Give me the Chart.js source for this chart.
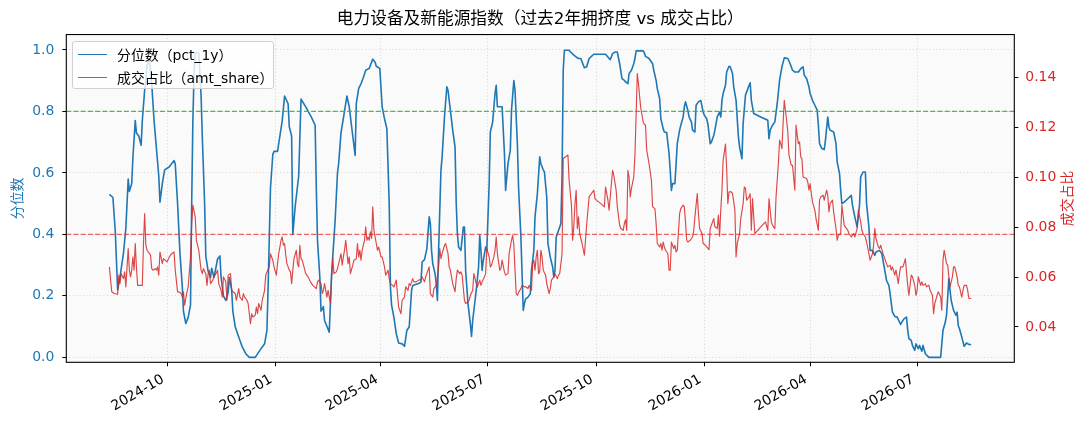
<!DOCTYPE html>
<html>
<head>
<meta charset="utf-8">
<title>电力设备及新能源指数</title>
<script src="https://cdn.jsdelivr.net/npm/chart.js@4.4.1/dist/chart.umd.min.js"></script>
<style>
  html, body { margin: 0; padding: 0; background: #fff; }
  #wrap { position: relative; width: 1089px; height: 429px; }
  #legend {
    position: absolute; left: 72px; top: 41px; width: 202px; height: 48px;
    box-sizing: border-box; border: 1px solid #d0d0d0; border-radius: 3px;
    background: rgba(255, 255, 255, 0.8);
    font-family: 'DejaVu Sans', 'Noto Sans CJK SC', sans-serif; font-size: 13.9px; color: #000;
  }
  #legend .row { position: absolute; left: 0; height: 20px; display: flex; align-items: center; white-space: nowrap; }
  #legend .swatch { display: inline-block; width: 29px; margin: 0 10px 0 5px; }
</style>
</head>
<body>
<div id="wrap">
  <canvas id="chart" width="1089" height="429"></canvas>
  <div id="legend"></div>
</div>
<script>
// 电力设备及新能源指数: 拥挤度分位数 vs 成交占比, 过去2年

const FONT = "'DejaVu Sans', 'Noto Sans CJK SC', sans-serif";
const BLUE = '#1f77b4';
const RED = '#d62728';
const RED_LINE = 'rgba(214, 39, 40, 0.85)';

const chartTitle = '电力设备及新能源指数（过去2年拥挤度 vs 成交占比）';
const pctLabel = '分位数（pct_1y）';
const shareLabel = '成交占比（amt_share）';
const pctAxisTitle = '分位数';
const shareAxisTitle = '成交占比';

const monthTicks = ['2024-10-01', '2025-01-01', '2025-04-01', '2025-07-01',
  '2025-10-01', '2026-01-01', '2026-04-01', '2026-07-01'];
const pctTicks = [0, 0.2, 0.4, 0.6, 0.8, 1.0];
const shareTicks = [0.04, 0.06, 0.08, 0.10, 0.12, 0.14];
const pctRange = [-0.016, 1.05];
const shareRange = [0.0258, 0.1574];
const highLevel = 0.8;
const lowLevel = 0.4;

// pct_1y, one line per month (dates and values line up)
const pctDates = [
  '2024-08-13','2024-08-16','2024-08-18','2024-08-20','2024-08-22','2024-08-25','2024-08-27','2024-08-29','2024-08-30',
  '2024-09-01','2024-09-02','2024-09-04','2024-09-05','2024-09-07','2024-09-09','2024-09-10','2024-09-12','2024-09-13','2024-09-14','2024-09-16','2024-09-18','2024-09-20','2024-09-22','2024-09-24','2024-09-25','2024-09-27','2024-09-29',
  '2024-10-03','2024-10-07','2024-10-08','2024-10-10','2024-10-12','2024-10-14','2024-10-15','2024-10-17','2024-10-19','2024-10-21','2024-10-22','2024-10-23','2024-10-24','2024-10-25','2024-10-28','2024-10-30','2024-10-31',
  '2024-11-02','2024-11-03','2024-11-05','2024-11-07','2024-11-08','2024-11-10','2024-11-11','2024-11-13','2024-11-15','2024-11-16','2024-11-18','2024-11-20','2024-11-22','2024-11-23','2024-11-25','2024-11-26','2024-11-28',
  '2024-12-01','2024-12-04','2024-12-07','2024-12-10','2024-12-15','2024-12-18','2024-12-21','2024-12-23','2024-12-25','2024-12-26','2024-12-27','2024-12-28','2024-12-30','2024-12-31',
  '2025-01-03','2025-01-05','2025-01-07','2025-01-09','2025-01-12','2025-01-13','2025-01-15','2025-01-16','2025-01-18','2025-01-21','2025-01-23','2025-01-27',
  '2025-02-01','2025-02-04','2025-02-05','2025-02-06','2025-02-08','2025-02-09','2025-02-11','2025-02-12','2025-02-16','2025-02-18','2025-02-21','2025-02-23','2025-02-24','2025-02-26',
  '2025-03-02','2025-03-03','2025-03-05','2025-03-08','2025-03-10','2025-03-11','2025-03-13','2025-03-15','2025-03-17','2025-03-19','2025-03-22','2025-03-23','2025-03-25','2025-03-27','2025-03-28','2025-03-31',
  '2025-04-02','2025-04-04','2025-04-06','2025-04-08','2025-04-09','2025-04-10','2025-04-12','2025-04-14','2025-04-16','2025-04-19','2025-04-21','2025-04-23','2025-04-25','2025-04-27','2025-04-28',
  '2025-05-03','2025-05-05','2025-05-06','2025-05-08','2025-05-10','2025-05-12','2025-05-13','2025-05-14','2025-05-15','2025-05-17','2025-05-18','2025-05-19','2025-05-20','2025-05-22','2025-05-23','2025-05-25','2025-05-27','2025-05-28','2025-05-30',
  '2025-06-01','2025-06-03','2025-06-04','2025-06-05','2025-06-06','2025-06-08','2025-06-10','2025-06-11','2025-06-12','2025-06-14','2025-06-16','2025-06-17','2025-06-18','2025-06-20','2025-06-21','2025-06-23','2025-06-24','2025-06-25','2025-06-26','2025-06-27','2025-06-29','2025-06-30',
  '2025-07-02','2025-07-03','2025-07-05','2025-07-07','2025-07-08','2025-07-09','2025-07-12','2025-07-13','2025-07-15','2025-07-16','2025-07-18','2025-07-20','2025-07-21','2025-07-23','2025-07-24','2025-07-26','2025-07-27','2025-07-29','2025-07-31',
  '2025-08-01','2025-08-02','2025-08-04','2025-08-06','2025-08-07','2025-08-09','2025-08-10','2025-08-12','2025-08-14','2025-08-15','2025-08-17','2025-08-18','2025-08-20','2025-08-21','2025-08-23','2025-08-25','2025-08-26','2025-08-27','2025-08-28','2025-08-30',
  '2025-09-01','2025-09-02','2025-09-03','2025-09-04','2025-09-08','2025-09-09','2025-09-12','2025-09-14','2025-09-16','2025-09-18','2025-09-19','2025-09-21','2025-09-23','2025-09-25','2025-09-27','2025-09-29',
  '2025-10-09','2025-10-11','2025-10-13','2025-10-15','2025-10-17','2025-10-19','2025-10-21','2025-10-23','2025-10-25','2025-10-26','2025-10-28','2025-10-29','2025-10-31',
  '2025-11-02','2025-11-03','2025-11-04','2025-11-10','2025-11-11','2025-11-12','2025-11-15','2025-11-18','2025-11-19','2025-11-21','2025-11-22','2025-11-24','2025-11-25','2025-11-27','2025-11-28','2025-11-30',
  '2025-12-02','2025-12-03','2025-12-04','2025-12-05','2025-12-07','2025-12-09','2025-12-11','2025-12-12','2025-12-14','2025-12-15','2025-12-16','2025-12-18','2025-12-19','2025-12-21','2025-12-22','2025-12-24','2025-12-25','2025-12-27','2025-12-29','2025-12-31',
  '2026-01-01','2026-01-03','2026-01-04','2026-01-06','2026-01-07','2026-01-09','2026-01-10','2026-01-12','2026-01-14','2026-01-15','2026-01-16','2026-01-17','2026-01-19','2026-01-20','2026-01-22','2026-01-23','2026-01-25','2026-01-26','2026-01-28','2026-01-30','2026-01-31',
  '2026-02-02','2026-02-03','2026-02-05','2026-02-07','2026-02-09','2026-02-10','2026-02-12','2026-02-18','2026-02-24','2026-02-25','2026-02-26','2026-02-28',
  '2026-03-02','2026-03-04','2026-03-06','2026-03-08','2026-03-10','2026-03-13','2026-03-15','2026-03-17','2026-03-19','2026-03-22','2026-03-24','2026-03-26','2026-03-27','2026-03-29','2026-03-31',
  '2026-04-01','2026-04-03','2026-04-05','2026-04-07','2026-04-08','2026-04-09','2026-04-11','2026-04-13','2026-04-14','2026-04-16','2026-04-17','2026-04-18','2026-04-21','2026-04-23','2026-04-24','2026-04-26','2026-04-27','2026-04-28','2026-04-30',
  '2026-05-03','2026-05-06','2026-05-07','2026-05-09','2026-05-11','2026-05-13','2026-05-14','2026-05-16','2026-05-18','2026-05-19','2026-05-21','2026-05-22','2026-05-24','2026-05-26','2026-05-27','2026-05-30',
  '2026-06-01','2026-06-03','2026-06-05','2026-06-07','2026-06-08','2026-06-10','2026-06-12','2026-06-14','2026-06-17','2026-06-18','2026-06-20','2026-06-22','2026-06-23','2026-06-24','2026-06-26','2026-06-27','2026-06-29','2026-06-30',
  '2026-07-02','2026-07-03','2026-07-05','2026-07-06','2026-07-08','2026-07-11','2026-07-21','2026-07-23','2026-07-25','2026-07-26','2026-07-27','2026-07-28','2026-07-29','2026-07-30',
  '2026-08-01','2026-08-03','2026-08-04','2026-08-05','2026-08-06','2026-08-08','2026-08-10','2026-08-12','2026-08-14','2026-08-16',
];
const pctValues = [
  0.53, 0.52, 0.41, 0.22, 0.26, 0.34, 0.42, 0.58, 0.54,
  0.565, 0.65, 0.77, 0.73, 0.72, 0.69, 0.77, 0.87, 0.90, 0.95, 0.97, 0.89, 0.77, 0.68, 0.59, 0.505, 0.565, 0.61,
  0.62, 0.64, 0.63, 0.50, 0.34, 0.23, 0.15, 0.11, 0.13, 0.17, 0.50, 0.77, 0.92, 0.99, 0.99, 0.85, 0.72,
  0.50, 0.33, 0.28, 0.26, 0.29, 0.26, 0.28, 0.32, 0.33, 0.26, 0.20, 0.185, 0.21, 0.26, 0.22, 0.15, 0.10,
  0.066, 0.034, 0.012, 0.0, 0.0, 0.017, 0.034, 0.044, 0.088, 0.23, 0.39, 0.55, 0.66, 0.67,
  0.67, 0.72, 0.77, 0.85, 0.825, 0.75, 0.72, 0.40, 0.49, 0.59, 0.84, 0.815,
  0.78, 0.755, 0.55, 0.38, 0.26, 0.15, 0.165, 0.12, 0.082, 0.27, 0.445, 0.60, 0.63, 0.73,
  0.825, 0.85, 0.815, 0.72, 0.657, 0.825, 0.874, 0.89, 0.91, 0.934, 0.94, 0.95, 0.97, 0.96, 0.947, 0.94,
  0.815, 0.776, 0.744, 0.50, 0.23, 0.17, 0.13, 0.077, 0.047, 0.044, 0.036, 0.088, 0.099, 0.218, 0.234,
  0.24, 0.245, 0.31, 0.318, 0.353, 0.457, 0.435, 0.348, 0.305, 0.272, 0.24, 0.185, 0.348, 0.608, 0.652, 0.782, 0.88, 0.869, 0.804,
  0.739, 0.684, 0.50, 0.40, 0.359, 0.348, 0.424, 0.424, 0.283, 0.175, 0.109, 0.068, 0.12, 0.185, 0.218, 0.294, 0.397, 0.348, 0.283, 0.315, 0.359, 0.348,
  0.565, 0.733, 0.766, 0.858, 0.885, 0.815, 0.815, 0.815, 0.663, 0.543, 0.63, 0.674, 0.804, 0.90, 0.869, 0.695, 0.554, 0.391, 0.153,
  0.175, 0.19, 0.196, 0.207, 0.283, 0.348, 0.457, 0.532, 0.652, 0.63, 0.61, 0.603, 0.52, 0.37, 0.326, 0.294, 0.261, 0.283, 0.391, 0.413,
  0.435, 0.587, 0.934, 0.999, 0.999, 0.994, 0.983, 0.977, 0.972, 0.972, 0.961, 0.942, 0.945, 0.972, 0.979, 0.986,
  0.986, 0.977, 0.968, 0.988, 0.993, 0.993, 0.955, 0.907, 0.901, 0.896, 0.89, 0.923, 0.934,
  0.955, 0.972, 0.997, 0.997, 0.99, 0.979, 0.972, 0.955, 0.934, 0.901, 0.874, 0.842, 0.777, 0.744, 0.733, 0.731,
  0.663, 0.608, 0.543, 0.565, 0.565, 0.695, 0.739, 0.755, 0.782, 0.815, 0.831, 0.804, 0.782, 0.766, 0.739, 0.733, 0.82, 0.831, 0.836, 0.798,
  0.788, 0.776, 0.76, 0.695, 0.70, 0.722, 0.739, 0.782, 0.798, 0.782, 0.836, 0.858, 0.885, 0.928, 0.947, 0.945, 0.923, 0.88, 0.836, 0.717, 0.684,
  0.646, 0.76, 0.853, 0.874, 0.893, 0.836, 0.793, 0.782, 0.771, 0.711, 0.739, 0.755,
  0.766, 0.825, 0.901, 0.945, 0.974, 0.972, 0.955, 0.934, 0.928, 0.928, 0.939, 0.945, 0.918, 0.907, 0.88,
  0.858, 0.836, 0.82, 0.804, 0.755, 0.695, 0.679, 0.676, 0.706, 0.782, 0.749, 0.739, 0.733, 0.695, 0.636, 0.598, 0.543, 0.50, 0.505,
  0.516, 0.527, 0.495, 0.457, 0.424, 0.495, 0.587, 0.603, 0.603, 0.50, 0.424, 0.348, 0.348, 0.332, 0.343, 0.348,
  0.337, 0.294, 0.25, 0.234, 0.207, 0.147, 0.133, 0.131, 0.107, 0.115, 0.126, 0.131, 0.088, 0.061, 0.055, 0.039, 0.023, 0.044,
  0.028, 0.039, 0.02, 0.039, 0.012, 0.0, 0.0, 0.088, 0.115, 0.137, 0.196, 0.256, 0.218, 0.185,
  0.153, 0.137, 0.147, 0.104, 0.093, 0.066, 0.036, 0.047, 0.042, 0.042,
];

// amt_share, one line per month (dates and values line up)
const shareDates = [
  '2024-08-13','2024-08-15','2024-08-17','2024-08-20','2024-08-21','2024-08-22','2024-08-23','2024-08-25','2024-08-26','2024-08-27','2024-08-29','2024-08-30','2024-08-31',
  '2024-09-01','2024-09-02','2024-09-03','2024-09-04','2024-09-05','2024-09-06','2024-09-08','2024-09-10','2024-09-11','2024-09-12','2024-09-13','2024-09-14','2024-09-17','2024-09-18','2024-09-19','2024-09-21','2024-09-22','2024-09-23','2024-09-24','2024-09-25','2024-09-27','2024-09-28',
  '2024-10-01','2024-10-03','2024-10-05','2024-10-07','2024-10-08','2024-10-10','2024-10-11','2024-10-13','2024-10-14','2024-10-15','2024-10-16','2024-10-18','2024-10-19','2024-10-21','2024-10-22','2024-10-23','2024-10-25','2024-10-26','2024-10-28','2024-10-30','2024-10-31',
  '2024-11-01','2024-11-03','2024-11-04','2024-11-05','2024-11-06','2024-11-07','2024-11-09','2024-11-10','2024-11-11','2024-11-13','2024-11-14','2024-11-16','2024-11-17','2024-11-18','2024-11-20','2024-11-21','2024-11-22','2024-11-24','2024-11-25','2024-11-26','2024-11-28','2024-11-29',
  '2024-12-01','2024-12-02','2024-12-04','2024-12-05','2024-12-06','2024-12-08','2024-12-09','2024-12-11','2024-12-12','2024-12-13','2024-12-15','2024-12-16','2024-12-17','2024-12-18','2024-12-20','2024-12-21','2024-12-23','2024-12-24','2024-12-25','2024-12-27','2024-12-28','2024-12-30','2024-12-31',
  '2025-01-02','2025-01-03','2025-01-04','2025-01-06','2025-01-07','2025-01-08','2025-01-09','2025-01-10','2025-01-11','2025-01-13','2025-01-14','2025-01-15','2025-01-16','2025-01-17','2025-01-19','2025-01-20','2025-01-21','2025-01-22','2025-01-23','2025-01-24','2025-01-27','2025-01-29','2025-01-31',
  '2025-02-02','2025-02-05','2025-02-06','2025-02-07','2025-02-09','2025-02-10','2025-02-11','2025-02-12','2025-02-14','2025-02-15','2025-02-17','2025-02-18','2025-02-19','2025-02-20','2025-02-22','2025-02-23','2025-02-24','2025-02-26','2025-02-27','2025-02-28',
  '2025-03-01','2025-03-02','2025-03-04','2025-03-05','2025-03-06','2025-03-08','2025-03-09','2025-03-11','2025-03-12','2025-03-13','2025-03-14','2025-03-15','2025-03-16','2025-03-18','2025-03-19','2025-03-20','2025-03-21','2025-03-22','2025-03-23','2025-03-24','2025-03-25','2025-03-26','2025-03-28','2025-03-29','2025-03-30',
  '2025-04-01','2025-04-02','2025-04-04','2025-04-05','2025-04-07','2025-04-08','2025-04-09','2025-04-11','2025-04-12','2025-04-14','2025-04-15','2025-04-16','2025-04-18','2025-04-19','2025-04-21','2025-04-22','2025-04-24','2025-04-25','2025-04-26','2025-04-28','2025-04-29',
  '2025-05-01','2025-05-03','2025-05-05','2025-05-06','2025-05-08','2025-05-09','2025-05-11','2025-05-12','2025-05-13','2025-05-15','2025-05-16','2025-05-18','2025-05-20','2025-05-21','2025-05-22','2025-05-23','2025-05-25','2025-05-26','2025-05-28','2025-05-29','2025-05-30','2025-05-31',
  '2025-06-01','2025-06-03','2025-06-04','2025-06-05','2025-06-07','2025-06-08','2025-06-09','2025-06-11','2025-06-12','2025-06-14','2025-06-15','2025-06-16','2025-06-18','2025-06-19','2025-06-21','2025-06-22','2025-06-24','2025-06-25','2025-06-26','2025-06-28','2025-06-29','2025-06-30',
  '2025-07-02','2025-07-03','2025-07-04','2025-07-06','2025-07-07','2025-07-08','2025-07-09','2025-07-11','2025-07-12','2025-07-13','2025-07-15','2025-07-16','2025-07-18','2025-07-19','2025-07-21','2025-07-22','2025-07-23','2025-07-24','2025-07-25','2025-07-26','2025-07-28','2025-07-29','2025-07-30',
  '2025-08-01','2025-08-02','2025-08-04','2025-08-05','2025-08-07','2025-08-08','2025-08-09','2025-08-10','2025-08-11','2025-08-12','2025-08-13','2025-08-14','2025-08-15','2025-08-16','2025-08-17','2025-08-19','2025-08-20','2025-08-22','2025-08-23','2025-08-24','2025-08-26','2025-08-27','2025-08-29','2025-08-30','2025-08-31',
  '2025-09-02','2025-09-03','2025-09-05','2025-09-07','2025-09-08','2025-09-10','2025-09-11','2025-09-12','2025-09-13','2025-09-14','2025-09-15','2025-09-16','2025-09-17','2025-09-19','2025-09-21','2025-09-23','2025-09-25','2025-09-26','2025-09-27','2025-09-29','2025-09-30',
  '2025-10-02','2025-10-05','2025-10-08','2025-10-09','2025-10-11','2025-10-12','2025-10-14','2025-10-15','2025-10-16','2025-10-18','2025-10-19','2025-10-21','2025-10-22','2025-10-24','2025-10-25','2025-10-26','2025-10-27','2025-10-28','2025-10-29','2025-10-30','2025-10-31',
  '2025-11-02','2025-11-03','2025-11-05','2025-11-06','2025-11-07','2025-11-08','2025-11-10','2025-11-11','2025-11-12','2025-11-13','2025-11-15','2025-11-17','2025-11-18','2025-11-20','2025-11-21','2025-11-22','2025-11-24','2025-11-25','2025-11-26','2025-11-27','2025-11-28','2025-11-29',
  '2025-12-01','2025-12-02','2025-12-03','2025-12-04','2025-12-06','2025-12-07','2025-12-08','2025-12-09','2025-12-11','2025-12-12','2025-12-14','2025-12-15','2025-12-16','2025-12-17','2025-12-18','2025-12-20','2025-12-22','2025-12-23','2025-12-24','2025-12-26','2025-12-27','2025-12-28','2025-12-30','2025-12-31',
  '2026-01-02','2026-01-03','2026-01-05','2026-01-06','2026-01-08','2026-01-09','2026-01-10','2026-01-12','2026-01-13','2026-01-14','2026-01-15','2026-01-16','2026-01-17','2026-01-19','2026-01-20','2026-01-21','2026-01-22','2026-01-24','2026-01-25','2026-01-27','2026-01-28','2026-01-29','2026-01-31',
  '2026-02-01','2026-02-03','2026-02-04','2026-02-05','2026-02-06','2026-02-08','2026-02-09','2026-02-10','2026-02-11','2026-02-13','2026-02-18','2026-02-22','2026-02-24','2026-02-25','2026-02-27','2026-02-28',
  '2026-03-02','2026-03-03','2026-03-05','2026-03-06','2026-03-07','2026-03-08','2026-03-09','2026-03-10','2026-03-12','2026-03-13','2026-03-14','2026-03-16','2026-03-17','2026-03-19','2026-03-20','2026-03-21','2026-03-22','2026-03-23','2026-03-24','2026-03-25','2026-03-26','2026-03-29','2026-03-30','2026-03-31',
  '2026-04-01','2026-04-02','2026-04-03','2026-04-05','2026-04-06','2026-04-08','2026-04-09','2026-04-10','2026-04-12','2026-04-13','2026-04-15','2026-04-16','2026-04-17','2026-04-18','2026-04-20','2026-04-21','2026-04-23','2026-04-24','2026-04-25','2026-04-27','2026-04-28','2026-04-30',
  '2026-05-02','2026-05-03','2026-05-04','2026-05-06','2026-05-08','2026-05-09','2026-05-11','2026-05-12','2026-05-14','2026-05-15','2026-05-16','2026-05-18','2026-05-19','2026-05-21','2026-05-22','2026-05-24','2026-05-25','2026-05-26','2026-05-27','2026-05-29','2026-05-30','2026-05-31',
  '2026-06-02','2026-06-03','2026-06-05','2026-06-06','2026-06-08','2026-06-09','2026-06-10','2026-06-12','2026-06-13','2026-06-15','2026-06-16','2026-06-17','2026-06-19','2026-06-21','2026-06-23','2026-06-24','2026-06-25','2026-06-26','2026-06-27','2026-06-29','2026-06-30',
  '2026-07-01','2026-07-02','2026-07-04','2026-07-05','2026-07-06','2026-07-08','2026-07-09','2026-07-11','2026-07-12','2026-07-14','2026-07-15','2026-07-16','2026-07-18','2026-07-19','2026-07-21','2026-07-22','2026-07-23','2026-07-24','2026-07-25','2026-07-26','2026-07-27','2026-07-28','2026-07-29','2026-07-31',
  '2026-08-01','2026-08-02','2026-08-04','2026-08-05','2026-08-06','2026-08-08','2026-08-09','2026-08-10','2026-08-12','2026-08-13','2026-08-14','2026-08-16',
];
const shareValues = [
  0.0641, 0.0541, 0.0534, 0.0531, 0.0608, 0.0574, 0.0614, 0.0594, 0.0621, 0.0561, 0.0715, 0.0628, 0.0601,
  0.0628, 0.0681, 0.0628, 0.0735, 0.0641, 0.0567, 0.0567, 0.0567, 0.0735, 0.0855, 0.0728, 0.0708, 0.0688, 0.0634, 0.0628, 0.0634, 0.0628, 0.0641, 0.0608, 0.0701, 0.0654, 0.0674,
  0.0661, 0.0681, 0.0694, 0.0701, 0.0628, 0.0541, 0.0541, 0.0534, 0.0520, 0.0541, 0.0487, 0.0541, 0.0561, 0.0681, 0.0815, 0.0889, 0.0842, 0.0748, 0.0708, 0.0628, 0.0614,
  0.0634, 0.0614, 0.0567, 0.0614, 0.0628, 0.0574, 0.0588, 0.0608, 0.0608, 0.0628, 0.0574, 0.0547, 0.0520, 0.0601, 0.0581, 0.0507, 0.0608, 0.0614, 0.0547, 0.0541, 0.0534, 0.0507,
  0.0554, 0.0520, 0.0507, 0.0534, 0.0520, 0.0507, 0.0494, 0.0413, 0.0453, 0.0440, 0.0447, 0.0480, 0.0453, 0.0494, 0.0467, 0.0507, 0.0547, 0.0608, 0.0621, 0.0641, 0.0694, 0.0668, 0.0641,
  0.0608, 0.0654, 0.0694, 0.0748, 0.0761, 0.0728, 0.0735, 0.0688, 0.0654, 0.0628, 0.0621, 0.0574, 0.0628, 0.0674, 0.0708, 0.0654, 0.0641, 0.0728, 0.0674, 0.0668, 0.0614, 0.0601, 0.0581,
  0.0567, 0.0554, 0.0581, 0.0588, 0.0574, 0.0534, 0.0547, 0.0574, 0.0520, 0.0547, 0.0494, 0.0601, 0.0674, 0.0614, 0.0621, 0.0634, 0.0654, 0.0694, 0.0648, 0.0681,
  0.0708, 0.0748, 0.0654, 0.0681, 0.0614, 0.0648, 0.0668, 0.0674, 0.0735, 0.0681, 0.0708, 0.0668, 0.0708, 0.0748, 0.0802, 0.0748, 0.0761, 0.0748, 0.0782, 0.0755, 0.0882, 0.0788, 0.0735, 0.0708, 0.0721,
  0.0681, 0.0681, 0.0641, 0.0608, 0.0628, 0.0594, 0.0574, 0.0567, 0.0561, 0.0588, 0.0534, 0.0480, 0.0453, 0.0507, 0.0520, 0.0561, 0.0547, 0.0574, 0.0567, 0.0594, 0.0581,
  0.0581, 0.0588, 0.0590, 0.0601, 0.0581, 0.0601, 0.0628, 0.0641, 0.0534, 0.0520, 0.0554, 0.0567, 0.0641, 0.0715, 0.0674, 0.0694, 0.0728, 0.0735, 0.0694, 0.0641, 0.0628, 0.0601,
  0.0574, 0.0541, 0.0594, 0.0628, 0.0614, 0.0621, 0.0608, 0.0507, 0.0494, 0.0500, 0.0507, 0.0527, 0.0547, 0.0614, 0.0574, 0.0561, 0.0588, 0.0567, 0.0581, 0.0601, 0.0614, 0.0715,
  0.0681, 0.0641, 0.0648, 0.0681, 0.0708, 0.0761, 0.0694, 0.0628, 0.0634, 0.0668, 0.0621, 0.0608, 0.0614, 0.0694, 0.0748, 0.0768, 0.0728, 0.0628, 0.0534, 0.0527, 0.0547, 0.0554, 0.0567,
  0.0561, 0.0561, 0.0554, 0.0567, 0.0547, 0.0654, 0.0668, 0.0628, 0.0681, 0.0708, 0.0614, 0.0621, 0.0708, 0.0681, 0.0628, 0.0608, 0.0574, 0.0534, 0.0554, 0.0588, 0.0601, 0.0614, 0.0594, 0.0608, 0.0614,
  0.0694, 0.1076, 0.1083, 0.1090, 0.0989, 0.0889, 0.0748, 0.0802, 0.0895, 0.0949, 0.0795, 0.0842, 0.0775, 0.0735, 0.0688, 0.0815, 0.0922, 0.0929, 0.0935, 0.0949, 0.0915,
  0.0906, 0.0895, 0.0882, 0.0962, 0.0909, 0.0869, 0.0976, 0.1029, 0.1009, 0.0949, 0.0882, 0.0808, 0.0795, 0.0788, 0.0815, 0.0831, 0.0788, 0.1029, 0.1002, 0.0922, 0.0956,
  0.1002, 0.1090, 0.1417, 0.1377, 0.1324, 0.1277, 0.1223, 0.1214, 0.1210, 0.1110, 0.1056, 0.0989, 0.0882, 0.0875, 0.0815, 0.0735, 0.0721, 0.0735, 0.0708, 0.0741, 0.0721, 0.0708,
  0.0694, 0.0628, 0.0628, 0.0741, 0.0715, 0.0728, 0.0701, 0.0708, 0.0855, 0.0875, 0.0889, 0.0882, 0.0822, 0.0748, 0.0741, 0.0748, 0.0761, 0.0788, 0.0842, 0.0935, 0.0855, 0.0795, 0.0775, 0.0735,
  0.0728, 0.0721, 0.0710, 0.0795, 0.0822, 0.0835, 0.0802, 0.0795, 0.0849, 0.0764, 0.0869, 0.0949, 0.1069, 0.1134, 0.1036, 0.0895, 0.0942, 0.0942, 0.0935, 0.0869, 0.0681, 0.0735, 0.0775,
  0.0835, 0.0895, 0.0962, 0.0956, 0.0909, 0.0922, 0.0935, 0.0788, 0.0915, 0.0775, 0.0802, 0.0822, 0.0788, 0.0915, 0.0822, 0.0808,
  0.0795, 0.0922, 0.1056, 0.1150, 0.1136, 0.1116, 0.1217, 0.1310, 0.1230, 0.1183, 0.1090, 0.1049, 0.1049, 0.0949, 0.1210, 0.1170, 0.1136, 0.1143, 0.1083, 0.1076, 0.1002, 0.0996, 0.0982, 0.0949,
  0.0976, 0.0935, 0.0902, 0.0869, 0.0835, 0.0788, 0.0909, 0.0922, 0.0929, 0.0909, 0.0949, 0.0929, 0.0862, 0.0895, 0.0909, 0.0862, 0.0795, 0.0748, 0.0768, 0.0775, 0.0889, 0.0808,
  0.0795, 0.0788, 0.0775, 0.0761, 0.0775, 0.0761, 0.0795, 0.0869, 0.0822, 0.0788, 0.0775, 0.0761, 0.0741, 0.0694, 0.0668, 0.0694, 0.0728, 0.0795, 0.0755, 0.0721, 0.0715, 0.0728,
  0.0694, 0.0681, 0.0654, 0.0641, 0.0648, 0.0628, 0.0641, 0.0608, 0.0628, 0.0574, 0.0614, 0.0641, 0.0641, 0.0674, 0.0567, 0.0527, 0.0567, 0.0608, 0.0601, 0.0567, 0.0527,
  0.0547, 0.0601, 0.0567, 0.0581, 0.0567, 0.0574, 0.0561, 0.0567, 0.0547, 0.0527, 0.0453, 0.0494, 0.0527, 0.0541, 0.0520, 0.0467, 0.0668, 0.0708, 0.0681, 0.0654, 0.0648, 0.0601, 0.0561, 0.0601,
  0.0641, 0.0641, 0.0601, 0.0567, 0.0561, 0.0520, 0.0547, 0.0567, 0.0567, 0.0547, 0.0514, 0.0514,
];

const DAY_MS = 86400000;
const dayOf = (s) => Date.parse(s + 'T00:00:00Z') / DAY_MS;
const toPoints = (dates, values) => dates.map((d, i) => ({ x: dayOf(d), y: values[i] }));

if (pctDates.length !== pctValues.length || shareDates.length !== shareValues.length) {
  console.warn('series length mismatch', pctDates.length, pctValues.length, shareDates.length, shareValues.length);
}

// matplotlib-style 5% margin on the date axis
const firstDay = dayOf(pctDates[0]);
const lastDay = dayOf(pctDates[pctDates.length - 1]);
const xPad = (lastDay - firstDay) * 0.05;
const xMin = firstDay - xPad;
const xMax = lastDay + xPad;

const gridStyle = { color: 'rgba(170, 170, 170, 0.55)', lineWidth: 0.8, tickLength: 4, tickColor: '#000', tickWidth: 1 };
const dotted = { display: false, dash: [1, 2.4] };

// plot background, frame and rotated axis titles (bottom-to-top, like matplotlib)
const plotFrame = {
  id: 'plotFrame',
  beforeDraw(chart) {
    const { ctx, chartArea: a } = chart;
    ctx.save();
    ctx.fillStyle = '#fafafa';
    ctx.fillRect(a.left, a.top, a.right - a.left, a.bottom - a.top);
    ctx.restore();
  },
  afterDraw(chart) {
    const { ctx, chartArea: a } = chart;
    ctx.save();
    ctx.strokeStyle = '#000';
    ctx.lineWidth = 1.1;
    ctx.strokeRect(a.left, a.top, a.right - a.left, a.bottom - a.top);
    const midY = (a.top + a.bottom) / 2;
    ctx.font = `13.9px ${FONT}`;
    ctx.textAlign = 'center';
    ctx.textBaseline = 'middle';
    [[a.left - 48, pctAxisTitle, BLUE], [a.right + 54, shareAxisTitle, RED]].forEach(([x, text, color]) => {
      ctx.save();
      ctx.translate(x, midY);
      ctx.rotate(-Math.PI / 2);
      ctx.fillStyle = color;
      ctx.fillText(text, 0, 0);
      ctx.restore();
    });
    ctx.restore();
  },
};

const lineDefaults = { pointRadius: 0, pointHoverRadius: 0, tension: 0, fill: false, borderJoinStyle: 'round' };

new Chart(document.getElementById('chart'), {
  type: 'line',
  data: {
    datasets: [
      { ...lineDefaults, label: shareLabel, data: toPoints(shareDates, shareValues), yAxisID: 'y1',
        borderColor: RED_LINE, borderWidth: 1.15, order: 0 },
      { ...lineDefaults, label: 'high', data: [{ x: xMin, y: highLevel }, { x: xMax, y: highLevel }], yAxisID: 'y',
        borderColor: 'rgba(50, 185, 50, 0.9)', borderWidth: 1.1, borderDash: [5, 2.2], order: 1 },
      { ...lineDefaults, label: 'low', data: [{ x: xMin, y: lowLevel }, { x: xMax, y: lowLevel }], yAxisID: 'y',
        borderColor: 'rgba(235, 45, 45, 0.72)', borderWidth: 1.1, borderDash: [5, 2.2], order: 1 },
      { ...lineDefaults, label: pctLabel, data: toPoints(pctDates, pctValues), yAxisID: 'y',
        borderColor: BLUE, borderWidth: 1.6, order: 2 },
    ],
  },
  options: {
    responsive: false,
    animation: false,
    events: [],
    layout: { padding: 0 },
    plugins: {
      legend: { display: false },
      tooltip: { enabled: false },
      title: {
        display: true,
        text: chartTitle,
        fullSize: false,
        color: '#000',
        font: { family: FONT, size: 16.7, weight: 'normal', lineHeight: 1.2 },
        padding: { top: 9.5, bottom: 5 },
      },
    },
    scales: {
      x: {
        type: 'linear',
        min: xMin,
        max: xMax,
        afterBuildTicks: (s) => { s.ticks = monthTicks.map((d) => ({ value: dayOf(d) })); },
        afterFit: (s) => { s.height = 66.7; },
        ticks: {
          autoSkip: false,
          minRotation: 30,
          maxRotation: 30,
          padding: 5,
          labelOffset: -4,
          color: '#000',
          font: { family: FONT, size: 13.9 },
          callback: (v) => new Date(v * DAY_MS).toISOString().slice(0, 7),
        },
        grid: gridStyle,
        border: dotted,
      },
      y: {
        position: 'left',
        min: pctRange[0],
        max: pctRange[1],
        afterBuildTicks: (s) => { s.ticks = pctTicks.map((v) => ({ value: v })); },
        afterFit: (s) => { s.width = 66.3; },
        ticks: { padding: 8, color: BLUE, font: { family: FONT, size: 13.9 }, callback: (v) => v.toFixed(1) },
        grid: gridStyle,
        border: dotted,
      },
      y1: {
        position: 'right',
        min: shareRange[0],
        max: shareRange[1],
        afterBuildTicks: (s) => { s.ticks = shareTicks.map((v) => ({ value: v })); },
        afterFit: (s) => { s.width = 74.7; },
        ticks: { padding: 7, color: RED, font: { family: FONT, size: 13.9 }, callback: (v) => v.toFixed(2) },
        grid: { ...gridStyle, drawOnChartArea: false },
        border: { display: false },
      },
    },
  },
  plugins: [plotFrame],
});

// legend box, top-left inside the plot
const legendEl = document.getElementById('legend');
[[pctLabel, BLUE, 1.6, 2], [shareLabel, RED_LINE, 1.15, 25]].forEach(([text, color, width, top]) => {
  const row = document.createElement('div');
  row.className = 'row';
  row.style.top = top + 'px';
  const sw = document.createElement('span');
  sw.className = 'swatch';
  sw.style.borderTop = `${width}px solid ${color}`;
  row.appendChild(sw);
  row.appendChild(document.createTextNode(text));
  legendEl.appendChild(row);
});
</script>
</body>
</html>
